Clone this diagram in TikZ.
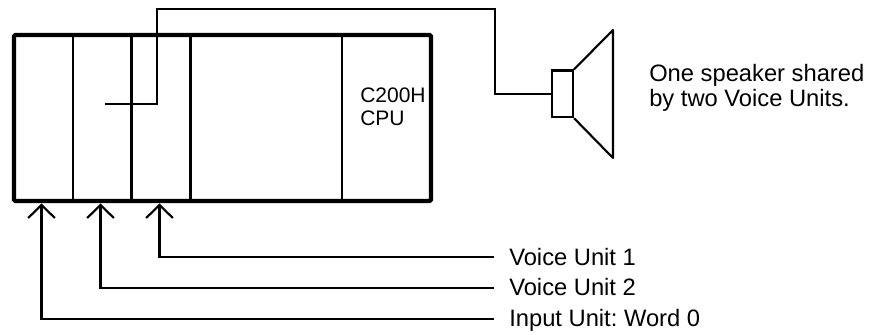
\documentclass[tikz,border=0pt]{standalone}
\usepackage{fontspec}
\setmainfont{Liberation Sans}
\usetikzlibrary{arrows.meta}
\begin{document}
\frenchspacing
\begin{tikzpicture}[
    x=0.75pt,y=-0.75pt,
    label/.style={inner sep=0pt,align=left,font=\fontsize{17.8}{18.75}\selectfont},
    small/.style={inner sep=0pt,align=left,font=\fontsize{15.75}{17.25}\selectfont},
    wire/.style={line width=1.6pt,line join=miter},
    >={Straight Barb[length=9.75pt,width=20pt,line width=1.6pt]}
]
\useasboundingbox (0,0) rectangle (876,335);

\node[draw,line width=3.2pt,rounded corners=1pt,minimum width=312.75pt,minimum height=124.5pt,inner sep=0pt] (rack) at (222.5,118) {};
\draw[line width=2.2pt] (73,35) -- (73,201);
\draw[line width=2.2pt] (131.5,35) -- (131.5,201);
\draw[line width=1.6pt] (190.5,35) -- (190.5,201);
\draw[line width=1.6pt] (342,35) -- (342,201);

\node[small,anchor=base west] (cpu) at (360,126) {C200H\\CPU};

\node[draw,line width=1.6pt,minimum width=15.75pt,minimum height=35pt,inner sep=0pt] (coil) at (562.5,93.8) {};
\coordinate (jack) at (105,104);
\coordinate (top1) at (157,9);
\coordinate (top2) at (495,9);
\draw[wire] (jack) -| (top1) -- (top2) |- (coil.west);
\draw[wire,line join=round] (coil.north east) -- (613,30) -- (613,158) -- (coil.south east);

\node[label,anchor=base west] (note) at (649,106.7) {One speaker shared\\by two Voice Units.};

\node[label,anchor=base west] (unit1) at (509,266) {Voice Unit 1};
\node[label,anchor=base west] (unit2) at (509,296) {Voice Unit 2};
\node[label,anchor=base west] (input) at (509,326.7) {Input Unit: Word 0};

\coordinate (slot1) at (159.5,203.5);
\coordinate (slot2) at (100.5,203.5);
\coordinate (slot3) at (41.5,203.5);
\coordinate (end1) at (494,257);
\coordinate (end2) at (494,288);
\coordinate (end3) at (494,319);
\draw[wire,->] (end1) -| (slot1);
\draw[wire,->] (end2) -| (slot2);
\draw[wire,->] (end3) -| (slot3);
\end{tikzpicture}
\end{document}
